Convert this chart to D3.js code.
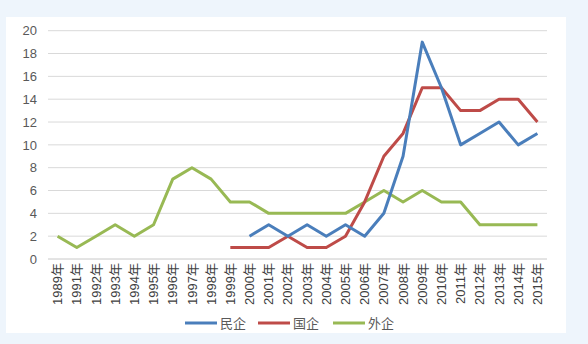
<!DOCTYPE html>
<html><head><meta charset="utf-8">
<script src="https://cdn.jsdelivr.net/npm/d3@7"></script>
<style>
html,body{margin:0;padding:0;background:#eef5fc;}
svg{display:block;}
</style></head>
<body>
<svg id="chart" width="588" height="344"></svg>
<script>
// Years on the category axis (1990 absent from the source series)
const years = ["1989年","1991年","1992年","1993年","1994年","1995年","1996年","1997年","1998年","1999年","2000年","2001年","2002年","2003年","2004年","2005年","2006年","2007年","2008年","2009年","2010年","2011年","2012年","2013年","2014年","2015年"];
// null = no value for that year
const minqi  = [null,null,null,null,null,null,null,null,null,null,2,3,2,3,2,3,2,4,9,19,15,10,11,12,10,11];
const guoqi  = [null,null,null,null,null,null,null,null,null,1,1,1,2,1,1,2,5,9,11,15,15,13,13,14,14,12];
const waiqi  = [2,1,2,3,2,3,7,8,7,5,5,4,4,4,4,4,5,6,5,6,5,5,3,3,3,3];
const yTicks = [0,2,4,6,8,10,12,14,16,18,20];
const seriesNames = ["民企","国企","外企"];
const seriesColors = ["#4a7ebb","#be4b48","#98b954"];

const svg = d3.select("#chart");
const font = "'Liberation Sans','Noto Sans CJK SC',sans-serif";

// white chart panel
svg.append("rect").attr("x",6).attr("y",17).attr("width",560).attr("height",316).attr("fill","#ffffff");

const plotL = 48, plotR = 547, plotT = 30.7, plotB = 259;
const x = d3.scaleBand().domain(years).range([plotL, plotR]);
const y = d3.scaleLinear().domain([0,20]).range([plotB, plotT]);

// horizontal gridlines
svg.append("g").selectAll("line").data(yTicks).join("line")
  .attr("x1",plotL).attr("x2",plotR)
  .attr("y1",d=>y(d)).attr("y2",d=>y(d))
  .attr("stroke",d=>d===0?"#c8c8c8":"#d9d9d9").attr("stroke-width",1);

// y axis labels
const yAxis = d3.axisLeft(y).tickValues(yTicks).tickSize(0).tickPadding(11);
const gy = svg.append("g").attr("transform",`translate(${plotL},0)`).call(yAxis);
gy.select(".domain").remove();
gy.selectAll("text").attr("font-family",font).attr("font-size",13).attr("fill","#595959");

// x axis labels, rotated
const xAxis = d3.axisBottom(x).tickSize(0).tickPadding(0);
const gx = svg.append("g").attr("transform",`translate(0,${plotB})`).call(xAxis);
gx.select(".domain").remove();
gx.selectAll("text")
  .attr("font-family",font).attr("font-size",13).attr("fill","#404040")
  .attr("transform","rotate(-90)")
  .attr("text-anchor","end")
  .attr("x",-4).attr("y",0).attr("dy","0.35em");

// lines: 外企 drawn first so the other two sit on top
const line = d3.line()
  .defined(d=>d.v!==null)
  .x(d=>x(d.k)+x.bandwidth()/2)
  .y(d=>y(d.v));
const allSeries = [minqi, guoqi, waiqi];
const gLines = svg.append("g");
[2,1,0].forEach(i=>{
  const pts = years.map((k,j)=>({k, v: allSeries[i][j]}));
  gLines.append("path").datum(pts)
    .attr("d",line)
    .attr("fill","none")
    .attr("stroke",seriesColors[i])
    .attr("stroke-width",3)
    .attr("stroke-linejoin","round");
});

// legend
const legendX = [185, 258, 333];
const lg = svg.append("g");
seriesNames.forEach((name,i)=>{
  lg.append("line").attr("x1",legendX[i]).attr("x2",legendX[i]+32)
    .attr("y1",323).attr("y2",323)
    .attr("stroke",seriesColors[i]).attr("stroke-width",3);
  lg.append("text").attr("x",legendX[i]+35).attr("y",323).attr("dy","0.35em")
    .attr("font-family",font).attr("font-size",13).attr("fill","#595959").text(name);
});
</script>
</body></html>
